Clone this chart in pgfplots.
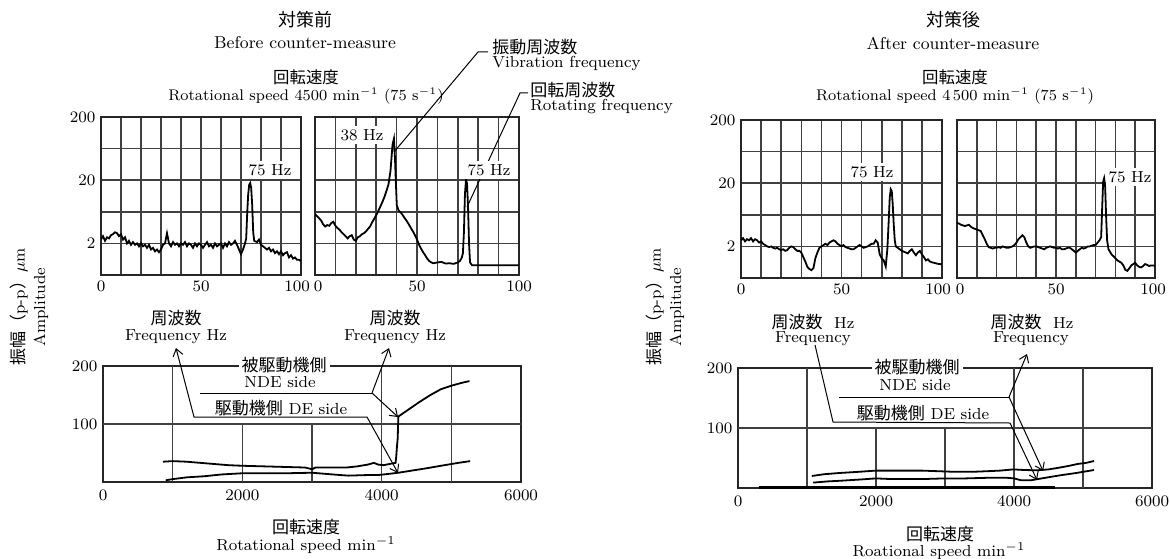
\documentclass[border=0pt]{standalone}
\usepackage{fontspec}
\usepackage{pgfplots}
\pgfplotsset{compat=1.18}
\usetikzlibrary{arrows.meta}
\newfontfamily\jpfont{Noto Sans CJK JP}
\newcommand\J[1]{{\jpfont\fontsize{8.5}{10}\selectfont #1}}
\pgfplotsset{
  specax/.style={scale only axis, xmin=0, xmax=100, ymin=0.632456, ymax=200,
    xtick={0,10,...,100},
    ytick={0.632456,2,6.32456,20,63.2456,200},
    grid=major, major grid style={black!75, line width=0.8pt},
    tick style={draw=none}, axis line style={black!85,line width=1pt},
    tick label style={font=\fontsize{8}{9.6}\selectfont},
    height=79pt, anchor=south west},
  rpmax/.style={scale only axis, xmin=0,xmax=6000,ymin=0,ymax=200,
    xtick={0,2000,4000,6000}, xticklabels={0,2000,4000,6000},
    ytick={100,200}, yticklabels={100,200},
    tick style={draw=none}, axis line style={black!85,line width=1pt},
    tick label style={font=\fontsize{8}{9.6}\selectfont},
    xticklabel style={yshift=-1pt},
    anchor=south west, clip=false},
}
\tikzset{gl/.style={black!75, line width=0.8pt},
  trace/.style={black, line width=0.9pt},
  wb/.style={fill=white, inner sep=1.5pt},
  ar/.style={black, line width=0.5pt},
  tip/.tip={Straight Barb[length=3.5pt,width=5pt]}}
\begin{document}
\fontsize{8}{9.6}\selectfont
\begin{tikzpicture}[x=0.5pt,y=0.5pt]
\useasboundingbox (0,0) rectangle (1170,558);
% ---------- panel 1 (before, left spectrum)
\begin{axis}[ymode=log, specax, at={(50.5pt,141.5pt)}, width=100pt, yticklabels={,2,,20,,200},
  xticklabels={0,,,,,50,,,,,100\kern4pt}]
\addplot[trace, mark=none] coordinates {(0,2.3) (1,2.6) (2,2.2) (3,2.5) (4,2.4) (5,2.7) (6,2.8) (7,3.0) (8,2.9) (9,2.6) (10,2.8) (11,2.3) (12,2.5) (13,2.0) (14,2.2) (15,1.9) (16,2.1) (17,1.9) (18,2.0) (19,1.8) (20,2.0) (21,1.8) (22,1.9) (23,1.7) (24,1.9) (25,1.6) (26,1.7) (27,1.5) (28,1.6) (29,1.45) (30,1.6) (31,1.9) (32,2.0) (33,2.9) (34,2.0) (35,1.8) (36,2.1) (37,1.9) (38,2.0) (39,1.8) (40,2.0) (41,1.9) (42,2.1) (43,1.8) (44,2.0) (45,1.9) (46,1.7) (47,2.0) (48,1.8) (49,2.0) (50,1.9) (51,1.7) (52,1.9) (53,2.1) (54,1.8) (55,1.9) (56,1.7) (57,2.0) (58,1.8) (59,1.9) (60,2.0) (61,1.7) (62,2.0) (63,1.8) (64,2.1) (65,1.9) (66,2.0) (67,2.2) (68,1.9) (69,1.6) (70,1.35) (71,1.6) (72,2.0) (72.6,2.4) (73.1,6) (73.6,12) (74.1,17) (74.6,18) (75.1,15) (75.6,8) (76.1,3) (76.6,2.2) (78,2.1) (79,2.3) (80,1.9) (81,1.8) (82,1.7) (83,1.6) (84,1.7) (85,1.5) (86,1.6) (87,1.4) (88,1.5) (89,1.35) (90,1.5) (91,1.3) (92,1.4) (93,1.45) (94,1.2) (95,1.3) (96,1.15) (97,1.2) (98,1.1) (99,1.1) (100,1.05)};
\end{axis}
% ---------- panel 2 (before, right spectrum)
\begin{axis}[ymode=log, specax, at={(157.5pt,141.5pt)}, width=102pt, yticklabels={},
  xticklabels={\kern3pt 0,,,,,50,,,,,100}]
\addplot[trace, mark=none] coordinates {(0,5.8) (1,5.4) (2,5.0) (3,4.6) (4,4.0) (5,3.7) (6,3.9) (7,3.8) (8,4.2) (9,4.4) (10,3.8) (11,3.5) (12,3.3) (13,3.0) (14,2.8) (15,2.6) (16,2.4) (17,2.6) (18,2.7) (19,2.3) (20,2.2) (21,2.5) (22,2.6) (23,2.8) (24,2.9) (25,3.1) (26,3.4) (27,3.7) (28,4.3) (29,4.9) (30,5.6) (31,6.5) (32,7.6) (33,9.0) (34,10.8) (35,13.5) (36,17) (37,28) (37.5,45) (38,73) (38.7,91) (39.2,45) (39.6,20) (40.1,8) (41,6.6) (42,6.2) (43,5.6) (44,5.0) (45,4.5) (46,4.0) (47,3.5) (48,3.1) (49,2.7) (50,2.3) (51,1.9) (52,1.65) (53,1.45) (54,1.3) (55,1.15) (56,1.05) (57,1.0) (58,0.97) (60,1.0) (62,1.02) (64,0.96) (66,0.97) (68,0.95) (70,1.0) (71,1.05) (72,1.2) (72.5,1.4) (73,3) (73.5,12) (74,20) (74.5,18) (75,8) (75.5,2) (76,1.0) (77,0.9) (80,0.9) (85,0.9) (90,0.9) (95,0.9) (100,0.9)};
\end{axis}
% ---------- panel 3 (after, left spectrum)
\begin{axis}[ymode=log, specax, at={(370.5pt,140pt)}, width=100.5pt, yticklabels={,2,,20,,200},
  xticklabels={0,,,,,50,,,,,100\kern4pt}]
\addplot[trace, mark=none] coordinates {(0,2.5) (1,2.7) (2,2.4) (3,2.6) (4,2.5) (5,2.7) (6,2.4) (7,2.6) (8,2.5) (9,2.3) (10,2.4) (11,2.2) (12,2.1) (13,2.0) (14,1.95) (15,2.0) (16,1.9) (17,1.85) (18,1.9) (19,1.8) (20,1.75) (21,1.8) (22,1.7) (23,1.75) (24,1.9) (25,2.0) (26,1.95) (27,1.8) (28,1.7) (29,1.7) (30,1.6) (31,1.35) (32,1.15) (33,0.95) (34,0.88) (35,0.84) (36,0.9) (37,1.3) (38,1.6) (39,1.9) (40,2.0) (41,2.1) (42,2.2) (43,2.1) (44,2.3) (45,2.4) (46,2.5) (47,2.4) (48,2.2) (49,2.1) (50,2.0) (51,2.1) (52,1.95) (53,1.9) (54,1.85) (55,1.8) (56,1.8) (57,1.9) (58,2.0) (59,2.1) (60,2.0) (61,1.9) (62,1.95) (63,2.0) (64,2.1) (65,2.2) (66,2.2) (67,2.5) (68,2.3) (69,1.5) (70,1.3) (71,1.2) (72,0.96) (72.8,1.8) (73.5,5.2) (74,12) (74.5,16) (75,15) (75.5,9) (76,4.3) (76.5,2.5) (77,2.0) (78,1.9) (79,1.8) (80,1.7) (81,1.65) (82,1.6) (83,1.55) (84,1.7) (85,1.8) (86,1.6) (87,1.45) (88,1.6) (89,1.7) (90,1.5) (91,1.35) (92,1.2) (93,1.25) (94,1.15) (95,1.12) (96,1.1) (97,1.08) (98,1.06) (99,1.05) (100,1.04)};
\end{axis}
% ---------- panel 4 (after, right spectrum)
\begin{axis}[ymode=log, specax, at={(478.5pt,140pt)}, width=99pt, yticklabels={},
  xticklabels={\kern3pt 0,,,,,50,,,,,100\kern2pt}]
\addplot[trace, mark=none] coordinates {(0,4.7) (1,4.6) (2,4.4) (3,4.3) (4,4.2) (5,4.3) (6,4.4) (7,4.1) (8,3.9) (9,3.8) (10,3.7) (11,3.6) (12,3.5) (13,3.0) (14,2.6) (15,2.2) (16,1.95) (17,1.9) (18,1.85) (19,1.9) (20,1.9) (21,1.95) (22,1.9) (23,2.0) (24,1.95) (25,1.9) (26,1.9) (27,1.95) (28,2.0) (29,2.1) (30,2.3) (31,2.6) (32,2.8) (33,3.0) (34,2.8) (35,2.3) (36,2.0) (37,1.9) (38,1.95) (39,2.0) (40,2.0) (41,1.95) (42,1.9) (43,1.85) (44,1.8) (45,1.9) (46,1.95) (47,2.0) (48,1.95) (49,1.9) (50,1.9) (51,1.85) (52,1.9) (53,1.8) (54,1.8) (55,1.85) (56,1.9) (57,1.9) (58,1.8) (59,1.7) (60,1.6) (61,1.7) (62,1.8) (63,1.9) (64,1.85) (65,1.9) (66,2.0) (67,2.0) (68,2.05) (69,2.1) (70,2.1) (71,2.3) (72,2.5) (72.8,2.8) (73.3,8) (73.8,21) (74.3,24) (74.8,18) (75.3,6) (75.8,2.5) (76.5,1.8) (77,1.7) (78,1.5) (79,1.4) (80,1.3) (81,1.2) (82,1.15) (83,1.1) (84,1.0) (85,0.85) (86,0.82) (87,0.9) (88,1.0) (89,1.05) (90,1.1) (91,1.0) (92,0.95) (93,0.93) (94,0.98) (95,1.05) (96,1.02) (97,0.98) (98,1.0) (99,1.0) (100,0.98)};
\end{axis}
% ---------- bottom left (before)
\begin{axis}[rpmax, at={(51.5pt,38pt)}, width=209pt, height=58pt]
\draw[gl] (0,100) -- (6000,100);
\draw[gl] (1000,0) -- (1000,200);
\draw[gl] (2000,0) -- (2000,100);
\draw[gl] (3000,0) -- (3000,100);
\draw[gl] (4000,0) -- (4000,200);
\draw[gl] (5000,0) -- (5000,200);
\addplot[trace, mark=none] coordinates {(860,35) (1000,36) (1200,35) (1500,32) (1800,29) (2000,28) (2300,27) (2600,26) (2900,25) (3000,22) (3050,25) (3300,25) (3500,25) (3650,27) (3800,30) (3890,33) (3950,30) (4030,29) (4150,32) (4200,33) (4210,45) (4220,62) (4230,75) (4235,95) (4240,113) (4350,122) (4530,137) (4700,150) (4850,160) (5000,166) (5150,171) (5260,174)};
\addplot[trace, mark=none] coordinates {(900,3) (1000,5) (1200,8) (1460,10) (1700,13) (1990,15) (2300,15) (2600,15) (3000,16) (3300,13) (3520,11) (3800,12) (3950,12) (4100,14) (4240,16) (4450,20) (4660,24) (4900,29) (5100,33) (5270,36)};
\end{axis}
% ---------- bottom right (after)
\begin{axis}[rpmax, at={(369pt,35pt)}, width=207pt, height=60pt]
\draw[gl] (0,100) -- (6000,100);
\draw[gl] (1000,0) -- (1000,200);
\draw[gl] (2000,0) -- (2000,100);
\draw[gl] (3000,0) -- (3000,100);
\draw[gl] (4000,0) -- (4000,200);
\draw[gl] (5000,0) -- (5000,200);
\addplot[trace, mark=none, line width=1.2pt] coordinates {(300,1) (4600,1)};
\addplot[trace, mark=none] coordinates {(1070,20) (1250,23) (1470,25) (1750,27) (2000,29) (2300,29) (2660,29) (2900,28) (3130,27) (3400,27) (3610,28) (3800,29) (3990,31) (4150,30) (4330,29.5) (4500,31) (4660,34) (4800,37) (4920,40) (5050,42) (5160,45)};
\addplot[trace, mark=none] coordinates {(1090,9) (1300,11) (1470,12) (1750,14) (2000,16) (2200,15) (2470,15) (2700,15) (3000,16) (3300,16) (3610,17) (3900,17) (4000,16) (4100,13) (4250,13) (4400,16) (4660,21) (4900,25) (5160,30)};
\end{axis}
% ---------- titles
\node at (305,538) {\J{\fontsize{9}{10}\selectfont 対策前}};
\node[font=\fontsize{8.6}{10}\selectfont] at (305,515) {Before counter-measure};
\node at (306,481) {\J{\fontsize{8.2}{10}\selectfont 回転速度}};
\node[font=\fontsize{7.7}{9}\selectfont] at (306,462) {Rotational speed 4500 min$^{-1}$ (75 s$^{-1}$)};
\node at (953,538) {\J{\fontsize{9}{10}\selectfont 対策後}};
\node[font=\fontsize{8.6}{10}\selectfont] at (953,515) {After counter-measure};
\node at (955,481) {\J{\fontsize{8.2}{10}\selectfont 回転速度}};
\node[font=\fontsize{7.7}{9}\selectfont] at (955,462) {Rotational speed 4\,500 min$^{-1}$ (75 s$^{-1}$)};
% ---------- top annotations
\draw[ar] (488,506) -- (478,506) -- (394,406);
\draw[ar] (528,465) -- (520,465) -- (467,351);
\node[anchor=west, inner sep=0pt] at (492,511) {\J{振動周波数}};
\node[anchor=west, inner sep=0pt] at (492,494) {Vibration frequency};
\node[anchor=west, inner sep=0pt] at (530,468) {\J{回転周波数}};
\node[anchor=west, inner sep=0pt] at (530,451) {Rotating frequency};
\node[wb] at (362,423) {38 Hz};
\node[wb] at (270,388) {75 Hz};
\node[wb] at (489,388) {75 Hz};
\node[wb] at (872,386) {75 Hz};
\draw[ar] (1107,376) -- (1111,383);
\node[wb] at (1130,381) {75 Hz};
% ---------- y-axis labels
\node[rotate=90] at (19,251) {\J{振幅（}p-p\J{）}$\mu$m};
\node[rotate=90] at (41,251) {Amplitude};
\node[rotate=90] at (655,251) {\J{振幅（}p-p\J{）}$\mu$m};
\node[rotate=90] at (677,251) {Amplitude};
% ---------- bottom left annotations
\node at (176,240) {\J{周波数}};
\node at (176,221) {Frequency Hz};
\node at (395,240) {\J{周波数}};
\node at (395,221) {Frequency Hz};
\draw[ar, tip-tip] (176,210) -- (194,141) -- (367,141) -- (398,85);
\draw[ar] (200,165) -- (372,165);
\draw[ar, tip-tip] (389,210) -- (372,165) -- (398,141);
\node[wb] at (284,193) {\J{被駆動機側}};
\node at (280,176) {NDE side};
\node at (281,150) {\J{駆動機側}\ DE side};
\node at (306,31) {\J{回転速度}};
\node at (306,13) {Rotational speed min$^{-1}$};
% ---------- bottom right annotations
\node at (813,236) {\J{周波数}\ \ Hz};
\node at (813,219) {Frequency};
\node at (1032,236) {\J{周波数}\ \ Hz};
\node at (1031,219) {Frequency};
\draw[ar, -tip] (815,213) -- (833,136) -- (1010,135) -- (1037,78);
\draw[ar] (839,161) -- (1009,161);
\draw[ar, tip-tip] (1027,204) -- (1009,161) -- (1043,87);
\node[wb] at (917,191) {\J{被駆動機側}};
\node at (915,173) {NDE side};
\node at (923,145) {\J{駆動機側}\ DE side};
\node at (940,24) {\J{回転速度}};
\node at (939,7) {Roational speed min$^{-1}$};
\end{tikzpicture}
\end{document}
